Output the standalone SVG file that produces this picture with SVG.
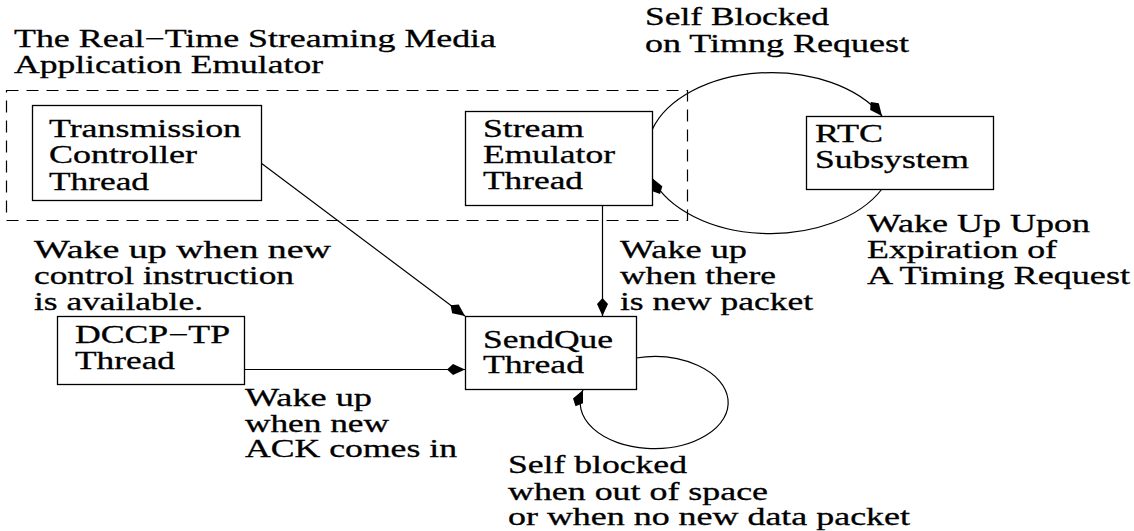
<svg xmlns="http://www.w3.org/2000/svg" width="1134" height="531" viewBox="0 0 1134 531">
<style>
text{font-family:"Liberation Serif","Times New Roman",serif;font-size:25px;fill:#000;stroke:#000;stroke-width:0.3}
.box{fill:#fff;stroke:#000;stroke-width:1.3}
.edge{fill:none;stroke:#000;stroke-width:1.2;marker-end:url(#ah)}
.dash{fill:none;stroke:#000;stroke-width:1.2;stroke-dasharray:12 8}
</style>
<defs>
<marker id="ah" markerUnits="userSpaceOnUse" markerWidth="24" markerHeight="16" refX="18" refY="0" viewBox="-1 -8 22 16" orient="auto" overflow="visible">
<path d="M0,0 L6,-5.5 L18,0 L6,5.5 Z" fill="#000"/>
</marker>
</defs>
<rect width="1134" height="531" fill="#fff"/>
<g id="emulator-frame">
<rect class="dash" x="6.5" y="90.5" width="681" height="130"/>
<text x="14" y="47" textLength="482" lengthAdjust="spacingAndGlyphs">The Real−Time Streaming Media</text>
<text x="14" y="73" textLength="309" lengthAdjust="spacingAndGlyphs">Application Emulator</text>
</g>
<g id="connectors">
<path class="edge" d="M261,163 L465,316"/>
<path class="edge" d="M602.5,205 L602.5,316"/>
<path class="edge" d="M244,369.5 L465,369.5"/>
<path class="edge" d="M652,130 A124.6,80.5 0 0 1 882,116"/>
<path class="edge" d="M882,189 A124.6,80.5 0 0 1 652,178"/>
<path class="edge" d="M636,358 A74,46 0 1 1 583,390"/>
</g>
<g id="transmission">
<rect class="box" x="32.5" y="105.5" width="229" height="95"/>
<text x="49" y="137" textLength="192" lengthAdjust="spacingAndGlyphs">Transmission</text>
<text x="49" y="163" textLength="148" lengthAdjust="spacingAndGlyphs">Controller</text>
<text x="49" y="190" textLength="100" lengthAdjust="spacingAndGlyphs">Thread</text>
</g>
<g id="stream">
<rect class="box" x="465.5" y="111.5" width="187" height="94"/>
<text x="483" y="137" textLength="101" lengthAdjust="spacingAndGlyphs">Stream</text>
<text x="483" y="163" textLength="132" lengthAdjust="spacingAndGlyphs">Emulator</text>
<text x="483" y="189" textLength="100" lengthAdjust="spacingAndGlyphs">Thread</text>
</g>
<g id="rtc">
<rect class="box" x="806.5" y="116.5" width="187" height="73"/>
<text x="815" y="142" textLength="68" lengthAdjust="spacingAndGlyphs">RTC</text>
<text x="815" y="168" textLength="154" lengthAdjust="spacingAndGlyphs">Subsystem</text>
</g>
<g id="dccp">
<rect class="box" x="57.5" y="316.5" width="187" height="68"/>
<text x="75" y="343" textLength="155" lengthAdjust="spacingAndGlyphs">DCCP−TP</text>
<text x="75" y="369" textLength="100" lengthAdjust="spacingAndGlyphs">Thread</text>
</g>
<g id="sendque">
<rect class="box" x="465.5" y="316.5" width="171" height="73"/>
<text x="483" y="348" textLength="130" lengthAdjust="spacingAndGlyphs">SendQue</text>
<text x="483" y="373" textLength="101" lengthAdjust="spacingAndGlyphs">Thread</text>
</g>
<g id="labels">
<text x="645" y="25" textLength="184" lengthAdjust="spacingAndGlyphs">Self Blocked</text>
<text x="645" y="52" textLength="264" lengthAdjust="spacingAndGlyphs">on Timng Request</text>
<text x="867" y="232" textLength="223" lengthAdjust="spacingAndGlyphs">Wake Up Upon</text>
<text x="867" y="258" textLength="190" lengthAdjust="spacingAndGlyphs">Expiration of</text>
<text x="867" y="284" textLength="263" lengthAdjust="spacingAndGlyphs">A Timing Request</text>
<text x="620" y="258" textLength="127" lengthAdjust="spacingAndGlyphs">Wake up</text>
<text x="620" y="284" textLength="156" lengthAdjust="spacingAndGlyphs">when there</text>
<text x="620" y="310" textLength="193" lengthAdjust="spacingAndGlyphs">is new packet</text>
<text x="34" y="258" textLength="297" lengthAdjust="spacingAndGlyphs">Wake up when new</text>
<text x="34" y="284" textLength="260" lengthAdjust="spacingAndGlyphs">control instruction</text>
<text x="34" y="310" textLength="169" lengthAdjust="spacingAndGlyphs">is available.</text>
<text x="245" y="406" textLength="127" lengthAdjust="spacingAndGlyphs">Wake up</text>
<text x="245" y="432" textLength="144" lengthAdjust="spacingAndGlyphs">when new</text>
<text x="245" y="457" textLength="212" lengthAdjust="spacingAndGlyphs">ACK comes in</text>
<text x="508" y="473" textLength="179" lengthAdjust="spacingAndGlyphs">Self blocked</text>
<text x="508" y="500" textLength="260" lengthAdjust="spacingAndGlyphs">when out of space</text>
<text x="508" y="525" textLength="402" lengthAdjust="spacingAndGlyphs">or when no new data packet</text>
</g>
</svg>
